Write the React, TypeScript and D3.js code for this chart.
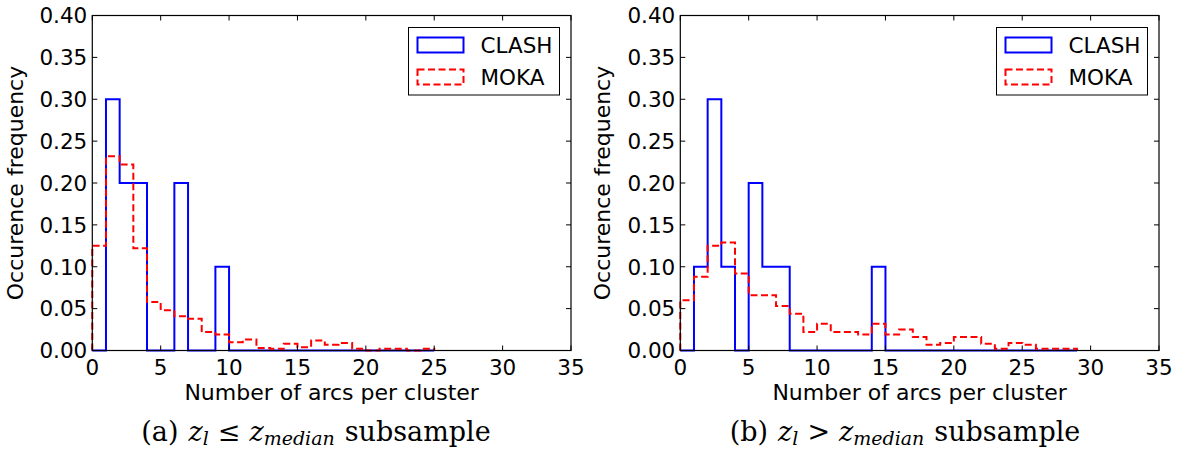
import React from "react";
import * as d3 from "d3";

// ---------- data ----------
const xTicks = [0, 5, 10, 15, 20, 25, 30, 35];
const yTicks = [0, 0.05, 0.1, 0.15, 0.2, 0.25, 0.3, 0.35, 0.4];

// per-integer-bin occurrence frequency, bins start at 0 with width 1
const leftClash = [0, 0.3, 0.2, 0.2, 0, 0, 0.2, 0, 0, 0.1, 0, 0, 0, 0, 0, 0, 0, 0, 0, 0, 0, 0, 0, 0, 0];
const leftMoka = [0.125, 0.232, 0.222, 0.122, 0.058, 0.048, 0.041, 0.038, 0.022, 0.019, 0.01, 0.013, 0.003, 0.002, 0.008, 0.004, 0.012, 0.007, 0.009, 0.002, 0.0, 0.002, 0.002, 0.0, 0.002];

const rightClash = [0, 0.1, 0.3, 0.1, 0, 0.2, 0.1, 0.1, 0, 0, 0, 0, 0, 0, 0.1, 0, 0, 0, 0, 0, 0, 0, 0, 0, 0, 0, 0, 0, 0];
const rightMoka = [0.06, 0.088, 0.125, 0.129, 0.092, 0.066, 0.066, 0.053, 0.044, 0.022, 0.032, 0.022, 0.022, 0.019, 0.032, 0.019, 0.025, 0.016, 0.007, 0.009, 0.016, 0.016, 0.008, 0.002, 0.009, 0.007, 0.002, 0.002, 0.002];

const seriesNames = ["CLASH", "MOKA"];
const xLabel = "Number of arcs per cluster";
const yLabel = "Occurence frequency";

const W = 1181;
const H = 451;
const TOP = 15.5;
const BOTTOM = 350.5;
const PLOT_W = 478.7;

const sans = "DejaVu Sans";
const serif = "DejaVu Serif";

function stepPoints(vals: number[]): [number, number][] {
  const pts: [number, number][] = [[0, 0]];
  vals.forEach((v, i) => {
    pts.push([i, v]);
    pts.push([i + 1, v]);
  });
  pts.push([vals.length, 0]);
  return pts;
}

type PanelProps = {
  left: number;
  clash: number[];
  moka: number[];
  letter: string;
  rel: string;
  captionX: number;
  yLabelX: number;
};

function Panel({ left, clash, moka, letter, rel, captionX, yLabelX }: PanelProps) {
  const right = left + PLOT_W;
  const x = d3.scaleLinear().domain([0, 35]).range([left, right]);
  const y = d3.scaleLinear().domain([0, 0.4]).range([BOTTOM, TOP]);
  const line = d3
    .line<[number, number]>()
    .x((d) => x(d[0]))
    .y((d) => y(d[1]));
  const fmt = d3.format(".2f");
  const tl = 5;
  const legRight = right - 11.5;
  const legLeft = legRight - 151;
  const blue = "#0000ff";
  const red = "#ff0000";
  const dash = "7,3.5";
  const fs = 21.5;
  return (
    <g>
      {/* data */}
      <path d={line(stepPoints(clash)) || ""} fill="none" stroke={blue} strokeWidth={2} />
      <path d={line(stepPoints(moka)) || ""} fill="none" stroke={red} strokeWidth={2} strokeDasharray={dash} />
      {/* frame */}
      <rect x={left} y={TOP} width={right - left} height={BOTTOM - TOP} fill="none" stroke="#000" strokeWidth={1.2} />
      {/* x ticks */}
      {xTicks.map((t) => (
        <g key={"x" + t}>
          <line x1={x(t)} x2={x(t)} y1={BOTTOM} y2={BOTTOM - tl} stroke="#000" strokeWidth={1} />
          <line x1={x(t)} x2={x(t)} y1={TOP} y2={TOP + tl} stroke="#000" strokeWidth={1} />
          <text x={x(t)} y={375} textAnchor="middle" fontFamily={sans} fontSize={fs} fill="#000">
            {t}
          </text>
        </g>
      ))}
      {/* y ticks */}
      {yTicks.map((t) => (
        <g key={"y" + t}>
          <line x1={left} x2={left + tl} y1={y(t)} y2={y(t)} stroke="#000" strokeWidth={1} />
          <line x1={right} x2={right - tl} y1={y(t)} y2={y(t)} stroke="#000" strokeWidth={1} />
          <text x={left - 5} y={y(t) + 7.8} textAnchor="end" fontFamily={sans} fontSize={fs} fill="#000">
            {fmt(t)}
          </text>
        </g>
      ))}
      {/* axis labels */}
      <text x={(left + right) / 2} y={400} textAnchor="middle" fontFamily={sans} fontSize={22} fill="#000">
        {xLabel}
      </text>
      <text
        transform={`translate(${yLabelX},${(TOP + BOTTOM) / 2}) rotate(-90)`}
        textAnchor="middle"
        fontFamily={sans}
        fontSize={22}
        fill="#000"
      >
        {yLabel}
      </text>
      {/* legend */}
      <rect x={legLeft} y={27.5} width={legRight - legLeft} height={67.5} fill="#fff" stroke="#000" strokeWidth={1} />
      <rect x={legLeft + 9} y={37.5} width={46} height={15} fill="none" stroke={blue} strokeWidth={2} />
      <rect x={legLeft + 9} y={69.5} width={46} height={15} fill="none" stroke={red} strokeWidth={2} strokeDasharray={dash} />
      <text x={legLeft + 72} y={53} fontFamily={sans} fontSize={fs} fill="#000">
        {seriesNames[0]}
      </text>
      <text x={legLeft + 72} y={85} fontFamily={sans} fontSize={fs} fill="#000">
        {seriesNames[1]}
      </text>
      {/* caption */}
      <text x={captionX} y={441} textAnchor="middle" fontFamily={serif} fontSize={27} fill="#000">
        <tspan>{`(${letter})`}</tspan>
        <tspan dx={10} fontStyle="italic">z</tspan>
        <tspan fontStyle="italic" fontSize={19} dy={4}>l</tspan>
        <tspan dx={9} dy={-4}>{rel}</tspan>
        <tspan dx={9} fontStyle="italic">z</tspan>
        <tspan fontStyle="italic" fontSize={19} dy={4}>median</tspan>
        <tspan dx={10} dy={-4}>subsample</tspan>
      </text>
    </g>
  );
}

export default function App() {
  return (
    <svg
      width={W}
      height={H}
      viewBox={`0 0 ${W} ${H}`}
      style={{ position: "absolute", left: 0, top: 0, background: "#fff" }}
    >
      <rect x={0} y={0} width={W} height={H} fill="#fff" />
      <Panel left={92.3} clash={leftClash} moka={leftMoka} letter="a" rel="≤" captionX={316} yLabelX={23} />
      <Panel left={680.3} clash={rightClash} moka={rightMoka} letter="b" rel=">" captionX={905} yLabelX={610} />
    </svg>
  );
}
